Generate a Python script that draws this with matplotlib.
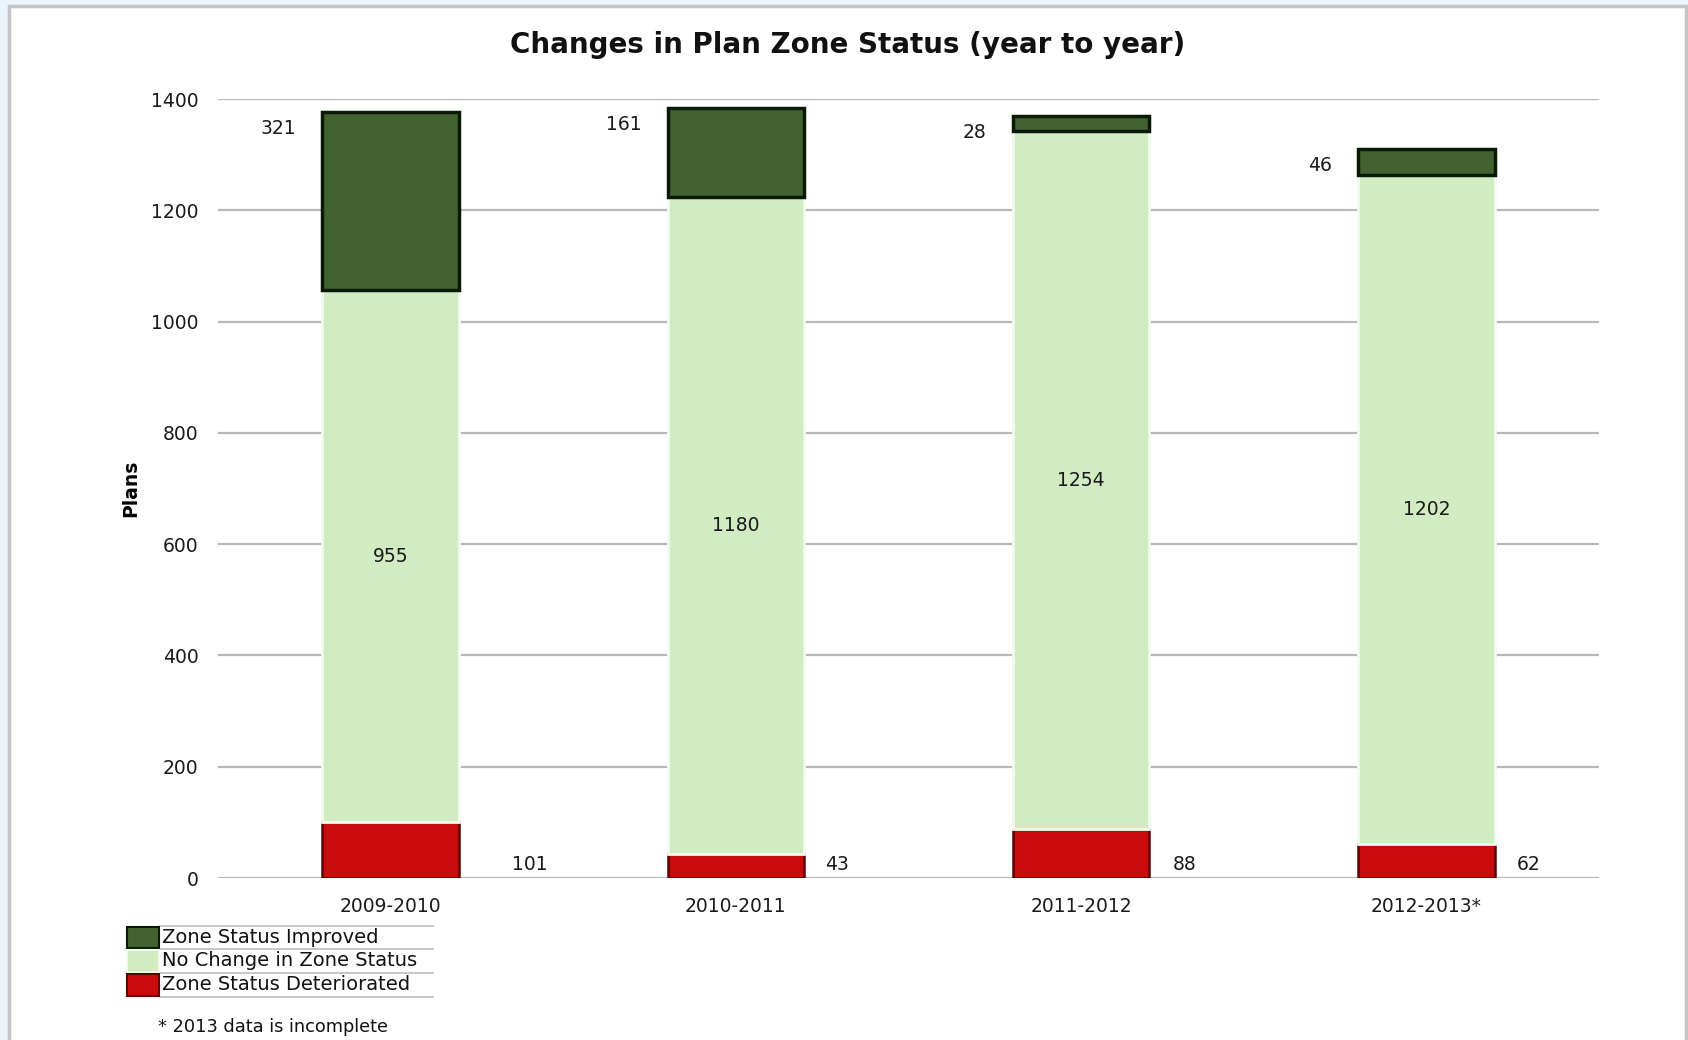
import matplotlib
matplotlib.use("Agg")
import matplotlib.pyplot as plt
from matplotlib.patches import Rectangle
from matplotlib.lines import Line2D
import numpy as np

categories = ["2009-2010", "2010-2011", "2011-2012", "2012-2013*"]
deteriorated = [101, 43, 88, 62]
no_change = [955, 1180, 1254, 1202]
improved = [321, 161, 28, 46]
series_names = ["Zone Status Improved", "No Change in Zone Status", "Zone Status Deteriorated"]
yticks = [0, 200, 400, 600, 800, 1000, 1200, 1400]
title = "Changes in Plan Zone Status (year to year)"
ylabel = "Plans"
footnote = "* 2013 data is incomplete"

c_imp, e_imp = "#426330", "#0b1a06"
c_nc, e_nc = "#d1ebc2", "#f2faee"
c_det, e_det = "#c90b0b", "#5c0303"

W, H = 1688, 1040
fig = plt.figure(figsize=(W / 100, H / 100), dpi=100)
fig.patch.set_facecolor("#eaf4fb")
fig.patches.append(Rectangle((9 / W, -0.02), (1686 - 9) / W, 1.02 - 6 / H, transform=fig.transFigure,
                             facecolor="white", edgecolor="#c4c4c4", linewidth=2.5, zorder=-5))

ax = fig.add_axes([218 / W, 1 - 878 / H, (1599 - 218) / W, (878 - 99) / H])
ax.set_facecolor("none")
ax.set_zorder(1)
x = np.arange(len(categories))
bw = 0.395

det = np.array(deteriorated)
nc = np.array(no_change)
imp = np.array(improved)

ax.bar(x, det, bw, color=c_det, edgecolor=e_det, linewidth=1.8, zorder=3)
ax.bar(x, nc, bw, bottom=det, color=c_nc, edgecolor=e_nc, linewidth=2, zorder=3)
ax.bar(x, imp, bw, bottom=det + nc, color=c_imp, edgecolor=e_imp, linewidth=2.5, zorder=3)

ax.set_xlim(-0.5, len(categories) - 0.5)
ax.set_ylim(0, 1400)
ax.set_yticks(yticks)
ax.set_xticks(x)
ax.set_xticklabels(categories)
for s in ax.spines.values():
    s.set_visible(False)
ax.yaxis.grid(True, color="#b8b8b8", linewidth=1.6, zorder=0)
ax.set_axisbelow(True)
ax.tick_params(axis="both", length=0, labelsize=13.5, colors="#1a1a1a")
ax.tick_params(axis="y", pad=14)
ax.tick_params(axis="x", pad=14)
ax.set_ylabel(ylabel, fontsize=13.5, fontweight="bold", labelpad=8)

# data labels
bottom_offsets = [38, 15, 17, 16]
for i in range(len(categories)):
    total = det[i] + nc[i] + imp[i]
    ax.annotate(f"{imp[i]}", xy=(x[i] - bw / 2, total), xytext=(-19, -5),
                textcoords="offset points", ha="right", va="top", fontsize=13.5, color="#1a1a1a")
    ax.text(x[i], det[i] + nc[i] / 2, f"{nc[i]}", ha="center", va="center", fontsize=13.5, color="#1a1a1a")
    ax.annotate(f"{det[i]}", xy=(x[i] + bw / 2, 0), xytext=(bottom_offsets[i], 10),
                textcoords="offset points", ha="left", va="center", fontsize=13.5, color="#1a1a1a")

fig.text(848 / W, 1 - 45 / H, title, ha="center", va="center", fontsize=20, fontweight="bold", color="#111111")

# legend (manual, table style)
colors = [(c_imp, e_imp), (c_nc, e_nc), (c_det, e_det)]
line_ys = [926, 949, 973, 997]
for k, (name, (fc, ec)) in enumerate(zip(series_names, colors)):
    y0, y1 = line_ys[k], line_ys[k + 1]
    fig.patches.append(Rectangle((127 / W, 1 - (y1 - 1) / H), 32 / W, (y1 - y0 - 2) / H,
                                 transform=fig.transFigure, facecolor=fc, edgecolor=ec,
                                 linewidth=1.5, zorder=2))
    fig.text(162 / W, 1 - ((y0 + y1) / 2) / H, name, ha="left", va="center", fontsize=14, color="#111111")
for ly in line_ys:
    fig.add_artist(Line2D([160 / W, 433 / W], [1 - ly / H, 1 - ly / H], transform=fig.transFigure,
                          color="#bdbdbd", linewidth=1.2))

fig.text(158 / W, 1 - 1027 / H, footnote, ha="left", va="center", fontsize=12.8, color="#111111")

fig.savefig("out.png", dpi=100, facecolor=fig.get_facecolor())
